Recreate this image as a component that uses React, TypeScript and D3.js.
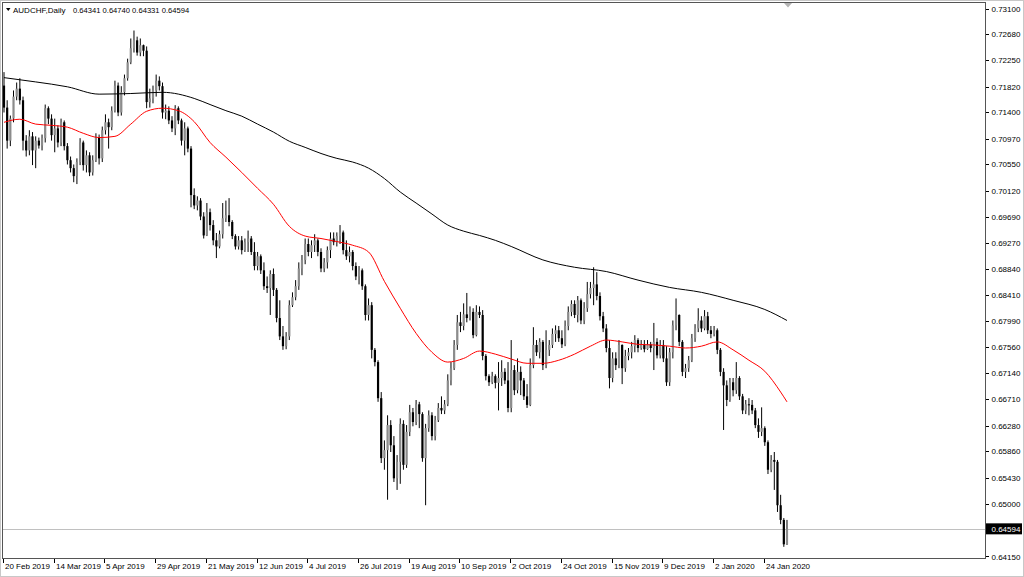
import React from 'react';
import * as d3 from 'd3';

const symbolTitle = 'AUDCHF,Daily';
const lastQuote = ['0.64341', '0.64740', '0.64331', '0.64594'];
const bidPrice = 0.64594;

const open = [
0.7184, 0.7148, 0.7094, 0.7130, 0.7166, 0.7179, 0.7160, 0.7094, 0.7078, 0.7101,
0.7078, 0.7094, 0.7086, 0.7098, 0.7147, 0.7130, 0.7103, 0.7114, 0.7091, 0.7124,
0.7085, 0.7062, 0.7049, 0.7036, 0.7059, 0.7091, 0.7054, 0.7070, 0.7042, 0.7062,
0.7099, 0.7065, 0.7111, 0.7124, 0.7116, 0.7143, 0.7184, 0.7140, 0.7173, 0.7196,
0.7222, 0.7245, 0.7258, 0.7238, 0.7250, 0.7241, 0.7157, 0.7163, 0.7176, 0.7192,
0.7183, 0.7140, 0.7143, 0.7127, 0.7114, 0.7147, 0.7127, 0.7094, 0.7114, 0.7081,
0.7005, 0.6988, 0.6996, 0.6970, 0.6939, 0.6977, 0.6956, 0.6931, 0.6921, 0.6941,
0.6967, 0.6972, 0.6961, 0.6938, 0.6921, 0.6931, 0.6915, 0.6928, 0.6934, 0.6912,
0.6889, 0.6905, 0.6882, 0.6856, 0.6853, 0.6876, 0.6850, 0.6804, 0.6774, 0.6758,
0.6774, 0.6825, 0.6838, 0.6856, 0.6885, 0.6899, 0.6925, 0.6912, 0.6923, 0.6931,
0.6912, 0.6885, 0.6895, 0.6915, 0.6934, 0.6928, 0.6938, 0.6944, 0.6915, 0.6905,
0.6912, 0.6889, 0.6872, 0.6882, 0.6856, 0.6809, 0.6825, 0.6752, 0.6732, 0.6673,
0.6575, 0.6588, 0.6629, 0.6596, 0.6542, 0.6569, 0.6631, 0.6564, 0.6618, 0.6650,
0.6634, 0.6663, 0.6647, 0.6575, 0.6624, 0.6645, 0.6611, 0.6637, 0.6657, 0.6653,
0.6663, 0.6702, 0.6722, 0.6760, 0.6797, 0.6791, 0.6810, 0.6804, 0.6814, 0.6776,
0.6814, 0.6809, 0.6742, 0.6709, 0.6699, 0.6709, 0.6698, 0.6706, 0.6716, 0.6702,
0.6657, 0.6719, 0.6686, 0.6716, 0.6702, 0.6676, 0.6662, 0.6727, 0.6760, 0.6748,
0.6765, 0.6727, 0.6752, 0.6760, 0.6778, 0.6784, 0.6771, 0.6761, 0.6791, 0.6814,
0.6827, 0.6809, 0.6833, 0.6800, 0.6820, 0.6843, 0.6853, 0.6859, 0.6840, 0.6807,
0.6787, 0.6755, 0.6706, 0.6738, 0.6727, 0.6760, 0.6722, 0.6742, 0.6748, 0.6758,
0.6768, 0.6755, 0.6761, 0.6753, 0.6761, 0.6755, 0.6765, 0.6743, 0.6760, 0.6738,
0.6699, 0.6748, 0.6792, 0.6809, 0.6765, 0.6716, 0.6722, 0.6735, 0.6771, 0.6787,
0.6800, 0.6787, 0.6807, 0.6784, 0.6778, 0.6784, 0.6752, 0.6716, 0.6694, 0.6670,
0.6699, 0.6686, 0.6706, 0.6676, 0.6653, 0.6663, 0.6662, 0.6653, 0.6629, 0.6618,
0.6624, 0.6601, 0.6556, 0.6572, 0.6569, 0.6498, 0.6474, 0.64341
];

const high = [
0.7206, 0.7160, 0.7135, 0.7176, 0.7189, 0.7196, 0.7166, 0.7103, 0.7111, 0.7108,
0.7101, 0.7099, 0.7104, 0.7153, 0.7150, 0.7137, 0.7130, 0.7119, 0.7130, 0.7127,
0.7090, 0.7068, 0.7055, 0.7065, 0.7098, 0.7094, 0.7078, 0.7075, 0.7070, 0.7106,
0.7104, 0.7117, 0.7137, 0.7130, 0.7150, 0.7192, 0.7189, 0.7183, 0.7202, 0.7228,
0.7261, 0.7274, 0.7264, 0.7261, 0.7251, 0.7248, 0.7179, 0.7184, 0.7202, 0.7199,
0.7189, 0.7153, 0.7150, 0.7134, 0.7152, 0.7150, 0.7130, 0.7124, 0.7117, 0.7085,
0.7016, 0.7003, 0.7000, 0.6977, 0.6992, 0.6983, 0.6964, 0.6943, 0.6947, 0.6992,
0.6996, 0.7000, 0.6964, 0.6941, 0.6938, 0.6938, 0.6934, 0.6947, 0.6938, 0.6928,
0.6912, 0.6908, 0.6895, 0.6872, 0.6882, 0.6885, 0.6853, 0.6833, 0.6791, 0.6781,
0.6833, 0.6846, 0.6866, 0.6895, 0.6907, 0.6934, 0.6934, 0.6931, 0.6941, 0.6934,
0.6918, 0.6902, 0.6921, 0.6944, 0.6944, 0.6944, 0.6956, 0.6947, 0.6931, 0.6921,
0.6915, 0.6895, 0.6889, 0.6885, 0.6859, 0.6836, 0.6830, 0.6755, 0.6735, 0.6683,
0.6604, 0.6645, 0.6637, 0.6611, 0.6580, 0.6640, 0.6637, 0.6629, 0.6662, 0.6657,
0.6670, 0.6667, 0.6650, 0.6631, 0.6653, 0.6650, 0.6644, 0.6665, 0.6676, 0.6670,
0.6712, 0.6732, 0.6768, 0.6809, 0.6814, 0.6828, 0.6845, 0.6823, 0.6820, 0.6825,
0.6823, 0.6817, 0.6745, 0.6712, 0.6716, 0.6712, 0.6732, 0.6735, 0.6722, 0.6732,
0.6768, 0.6727, 0.6738, 0.6725, 0.6706, 0.6696, 0.6738, 0.6789, 0.6768, 0.6771,
0.6768, 0.6784, 0.6768, 0.6787, 0.6792, 0.6791, 0.6784, 0.6800, 0.6823, 0.6833,
0.6833, 0.6840, 0.6836, 0.6830, 0.6863, 0.6863, 0.6887, 0.6879, 0.6846, 0.6814,
0.6794, 0.6768, 0.6748, 0.6748, 0.6768, 0.6761, 0.6752, 0.6755, 0.6765, 0.6776,
0.6771, 0.6768, 0.6768, 0.6768, 0.6765, 0.6796, 0.6771, 0.6768, 0.6768, 0.6758,
0.6755, 0.6800, 0.6836, 0.6810, 0.6768, 0.6729, 0.6742, 0.6778, 0.6794, 0.6820,
0.6807, 0.6817, 0.6814, 0.6791, 0.6791, 0.6787, 0.6755, 0.6722, 0.6702, 0.6706,
0.6706, 0.6732, 0.6709, 0.6680, 0.6670, 0.6673, 0.6670, 0.6657, 0.6640, 0.6658,
0.6627, 0.6604, 0.6580, 0.6585, 0.6572, 0.6515, 0.6477, 0.64740
];

const low = [
0.7140, 0.7081, 0.7085, 0.7124, 0.7160, 0.7153, 0.7078, 0.7068, 0.7070, 0.7054,
0.7049, 0.7081, 0.7078, 0.7091, 0.7121, 0.7094, 0.7075, 0.7083, 0.7085, 0.7078,
0.7055, 0.7042, 0.7026, 0.7023, 0.7054, 0.7045, 0.7042, 0.7036, 0.7037, 0.7059,
0.7055, 0.7059, 0.7104, 0.7081, 0.7111, 0.7140, 0.7134, 0.7135, 0.7168, 0.7192,
0.7219, 0.7238, 0.7233, 0.7232, 0.7232, 0.7147, 0.7148, 0.7155, 0.7166, 0.7176,
0.7130, 0.7129, 0.7121, 0.7108, 0.7103, 0.7121, 0.7086, 0.7070, 0.7075, 0.6985,
0.6982, 0.6980, 0.6964, 0.6934, 0.6938, 0.6947, 0.6923, 0.6902, 0.6918, 0.6934,
0.6961, 0.6954, 0.6933, 0.6916, 0.6916, 0.6908, 0.6912, 0.6912, 0.6907, 0.6882,
0.6882, 0.6876, 0.6850, 0.6845, 0.6809, 0.6840, 0.6797, 0.6768, 0.6752, 0.6753,
0.6768, 0.6822, 0.6833, 0.6850, 0.6874, 0.6892, 0.6905, 0.6902, 0.6912, 0.6905,
0.6879, 0.6879, 0.6885, 0.6902, 0.6923, 0.6921, 0.6925, 0.6908, 0.6899, 0.6895,
0.6882, 0.6866, 0.6859, 0.6850, 0.6800, 0.6800, 0.6738, 0.6725, 0.6667, 0.6567,
0.6556, 0.6507, 0.6585, 0.6536, 0.6523, 0.6533, 0.6556, 0.6559, 0.6611, 0.6627,
0.6629, 0.6624, 0.6569, 0.6498, 0.6618, 0.6604, 0.6604, 0.6634, 0.6647, 0.6647,
0.6660, 0.6694, 0.6719, 0.6752, 0.6781, 0.6784, 0.6797, 0.6800, 0.6771, 0.6774,
0.6804, 0.6735, 0.6702, 0.6693, 0.6696, 0.6689, 0.6653, 0.6693, 0.6696, 0.6650,
0.6650, 0.6678, 0.6681, 0.6678, 0.6670, 0.6657, 0.6660, 0.6722, 0.6742, 0.6738,
0.6719, 0.6722, 0.6742, 0.6755, 0.6765, 0.6765, 0.6755, 0.6758, 0.6784, 0.6807,
0.6804, 0.6797, 0.6794, 0.6794, 0.6814, 0.6836, 0.6825, 0.6833, 0.6800, 0.6781,
0.6748, 0.6689, 0.6699, 0.6719, 0.6722, 0.6696, 0.6716, 0.6735, 0.6738, 0.6748,
0.6748, 0.6752, 0.6748, 0.6752, 0.6748, 0.6719, 0.6738, 0.6738, 0.6732, 0.6693,
0.6693, 0.6738, 0.6784, 0.6758, 0.6709, 0.6706, 0.6716, 0.6732, 0.6765, 0.6781,
0.6781, 0.6784, 0.6778, 0.6771, 0.6774, 0.6745, 0.6709, 0.6621, 0.6660, 0.6667,
0.6676, 0.6680, 0.6670, 0.6647, 0.6647, 0.6645, 0.6647, 0.6624, 0.6608, 0.6611,
0.6595, 0.6549, 0.6552, 0.6523, 0.6487, 0.6467, 0.6430, 0.64331
];

const close = [
0.7148, 0.7094, 0.7130, 0.7166, 0.7179, 0.7160, 0.7094, 0.7078, 0.7101, 0.7078,
0.7094, 0.7086, 0.7098, 0.7147, 0.7130, 0.7103, 0.7114, 0.7091, 0.7124, 0.7085,
0.7062, 0.7049, 0.7036, 0.7059, 0.7091, 0.7054, 0.7070, 0.7042, 0.7062, 0.7099,
0.7065, 0.7111, 0.7124, 0.7116, 0.7143, 0.7184, 0.7140, 0.7173, 0.7196, 0.7222,
0.7245, 0.7258, 0.7238, 0.7250, 0.7241, 0.7157, 0.7163, 0.7176, 0.7192, 0.7183,
0.7140, 0.7143, 0.7127, 0.7114, 0.7147, 0.7127, 0.7094, 0.7114, 0.7081, 0.7005,
0.6988, 0.6996, 0.6970, 0.6939, 0.6977, 0.6956, 0.6931, 0.6921, 0.6941, 0.6967,
0.6972, 0.6961, 0.6938, 0.6921, 0.6931, 0.6915, 0.6928, 0.6934, 0.6912, 0.6889,
0.6905, 0.6882, 0.6856, 0.6853, 0.6876, 0.6850, 0.6804, 0.6774, 0.6758, 0.6774,
0.6825, 0.6838, 0.6856, 0.6885, 0.6899, 0.6925, 0.6912, 0.6923, 0.6931, 0.6912,
0.6885, 0.6895, 0.6915, 0.6934, 0.6928, 0.6938, 0.6944, 0.6915, 0.6905, 0.6912,
0.6889, 0.6872, 0.6882, 0.6856, 0.6809, 0.6825, 0.6752, 0.6732, 0.6673, 0.6575,
0.6588, 0.6629, 0.6596, 0.6542, 0.6569, 0.6631, 0.6564, 0.6618, 0.6650, 0.6634,
0.6663, 0.6647, 0.6575, 0.6624, 0.6645, 0.6611, 0.6637, 0.6657, 0.6653, 0.6663,
0.6702, 0.6722, 0.6760, 0.6797, 0.6791, 0.6810, 0.6804, 0.6814, 0.6776, 0.6814,
0.6809, 0.6742, 0.6709, 0.6699, 0.6709, 0.6698, 0.6706, 0.6716, 0.6702, 0.6657,
0.6719, 0.6686, 0.6716, 0.6702, 0.6676, 0.6662, 0.6727, 0.6760, 0.6748, 0.6765,
0.6727, 0.6752, 0.6760, 0.6778, 0.6784, 0.6771, 0.6761, 0.6791, 0.6814, 0.6827,
0.6809, 0.6833, 0.6800, 0.6820, 0.6843, 0.6853, 0.6859, 0.6840, 0.6807, 0.6787,
0.6755, 0.6706, 0.6738, 0.6727, 0.6760, 0.6722, 0.6742, 0.6748, 0.6758, 0.6768,
0.6755, 0.6761, 0.6753, 0.6761, 0.6755, 0.6765, 0.6743, 0.6760, 0.6738, 0.6699,
0.6748, 0.6792, 0.6809, 0.6765, 0.6716, 0.6722, 0.6735, 0.6771, 0.6787, 0.6800,
0.6787, 0.6807, 0.6784, 0.6778, 0.6784, 0.6752, 0.6716, 0.6694, 0.6670, 0.6699,
0.6686, 0.6706, 0.6676, 0.6653, 0.6663, 0.6662, 0.6653, 0.6629, 0.6618, 0.6624,
0.6601, 0.6556, 0.6572, 0.6569, 0.6498, 0.6474, 0.64341, 0.64594
];

// Red moving average read at bar indices
const maFastBars = [0, 5, 10, 15, 20, 25, 30, 35, 40, 45, 50, 55, 60, 65, 70, 75, 80, 85, 90, 95, 100, 105, 110, 115, 120, 125, 130, 135, 140, 145, 150, 155, 160, 165, 170, 175, 180, 185, 190, 195, 200, 205, 210, 215, 220, 225, 230, 235, 240, 245, 247];
const maFast = [0.7124, 0.7129, 0.7121, 0.7119, 0.7116, 0.7106, 0.7099, 0.7101, 0.7121, 0.7142, 0.7147, 0.7143, 0.7125, 0.7091, 0.7067, 0.7042, 0.7016, 0.6990, 0.6954, 0.6938, 0.6934, 0.6929, 0.6923, 0.6912, 0.6864, 0.6820, 0.6779, 0.6748, 0.6732, 0.6738, 0.6750, 0.6745, 0.6737, 0.6730, 0.6730, 0.6735, 0.6745, 0.6758, 0.6768, 0.6765, 0.6761, 0.6760, 0.6758, 0.6755, 0.6758, 0.6765, 0.6752, 0.6735, 0.6717, 0.6683, 0.6667];

// Black moving average read at bar indices
const maSlowBars = [0, 10, 20, 30, 40, 50, 60, 65, 70, 75, 80, 85, 90, 95, 100, 105, 110, 115, 120, 125, 130, 135, 140, 145, 150, 155, 160, 170, 180, 190, 200, 210, 220, 230, 240, 247];
const maSlow = [0.7197, 0.7190, 0.7182, 0.7170, 0.7171, 0.7173, 0.7163, 0.7153, 0.7143, 0.7134, 0.7121, 0.7108, 0.7093, 0.7083, 0.7073, 0.7065, 0.7059, 0.7049, 0.7032, 0.7010, 0.6992, 0.6974, 0.6956, 0.6946, 0.6939, 0.6931, 0.6921, 0.6899, 0.6887, 0.6880, 0.6866, 0.6854, 0.6846, 0.6833, 0.6818, 0.6800];

const dateTickBars = [0, 16, 32, 48, 64, 80, 96, 112, 128, 144, 160, 176, 192, 208, 224, 240];
const dateTickLabels = ['20 Feb 2019', '14 Mar 2019', '5 Apr 2019', '29 Apr 2019', '21 May 2019', '12 Jun 2019', '4 Jul 2019', '26 Jul 2019', '19 Aug 2019', '10 Sep 2019', '2 Oct 2019', '24 Oct 2019', '15 Nov 2019', '9 Dec 2019', '2 Jan 2020', '24 Jan 2020'];

const priceTicks = [0.731, 0.7268, 0.7225, 0.7182, 0.714, 0.7097, 0.7055, 0.7012, 0.6969, 0.6927, 0.6884, 0.6841, 0.6799, 0.6756, 0.6714, 0.6671, 0.6628, 0.6586, 0.6543, 0.65, 0.6415];

const FONT = "Tahoma, 'Liberation Sans', Arial, sans-serif";

export default function App() {
  const W = 1024;
  const H = 577;
  const plotLeft = 2.5;
  const plotTop = 2.5;
  const plotRight = 985.5;
  const plotBottom = 558.5;
  const n = close.length;

  const x = d3.scaleLinear().domain([0, n - 1]).range([4, 4 + 3.17 * (n - 1)]);
  const y = d3.scaleLinear().domain([0.6415, 0.731]).range([556, 8.5]);

  const line = d3
    .line<[number, number]>()
    .x((d) => x(d[0]))
    .y((d) => y(d[1]))
    .curve(d3.curveMonotoneX);

  const fastPath = line(maFastBars.map((b, i) => [b, maFast[i]] as [number, number])) || '';
  const slowPath = line(maSlowBars.map((b, i) => [b, maSlow[i]] as [number, number])) || '';

  const fmt = d3.format('.5f');
  const bw = 2.2;

  return (
    <div style={{ position: 'fixed', left: 0, top: 0, width: W, height: H, background: '#fff' }}>
      <svg width={W} height={H} viewBox={`0 0 ${W} ${H}`} style={{ display: 'block' }}>
        <rect x={0} y={0} width={W} height={H} fill="#ffffff" />
        <rect x={0.5} y={0.5} width={W - 1} height={H - 1} fill="none" stroke="#c8c8c8" />
        <defs>
          <clipPath id="plotClip">
            <rect x={plotLeft} y={plotTop} width={plotRight - plotLeft} height={plotBottom - plotTop} />
          </clipPath>
        </defs>

        {/* bid line */}
        <line x1={plotLeft} x2={plotRight} y1={Math.round(y(bidPrice)) + 0.5} y2={Math.round(y(bidPrice)) + 0.5} stroke="#c0c0c0" strokeWidth={1} />

        <g clipPath="url(#plotClip)">
          {close.map((c, i) => {
            const o = open[i];
            const cx = x(i);
            const top = y(Math.max(o, c));
            const bot = y(Math.min(o, c));
            const h = Math.max(1, bot - top);
            const bull = c > o;
            return (
              <g key={i}>
                <line x1={cx} x2={cx} y1={y(high[i])} y2={y(low[i])} stroke="#000" strokeWidth={1} />
                <rect x={cx - bw / 2} y={top} width={bw} height={h} fill={bull ? '#8c8c8c' : '#000'} />
              </g>
            );
          })}
          <path d={slowPath} fill="none" stroke="#000" strokeWidth={1} />
          <path d={fastPath} fill="none" stroke="#ff0000" strokeWidth={1} />
        </g>

        {/* frame */}
        <rect x={plotLeft} y={plotTop} width={plotRight - plotLeft} height={plotBottom - plotTop} fill="none" stroke="#555" strokeWidth={1} shapeRendering="crispEdges" />

        {/* chart shift marker */}
        <polygon points="784,3 792,3 788,7.5" fill="#b4b4b4" />

        {/* header */}
        <polygon points="6,8 10.5,8 8.25,11" fill="#000" />
        <text x={13} y={13} fontFamily={FONT} fontSize={8} fill="#000">{symbolTitle}</text>
        <text x={73} y={13} fontFamily={FONT} fontSize={7.6} fill="#000">{lastQuote.join(' ')}</text>

        {/* price axis */}
        {priceTicks.map((p, i) => {
          const ty = y(p);
          const last = i === priceTicks.length - 1;
          return (
            <g key={p}>
              <line x1={985.5} x2={989} y1={Math.round(ty) + 0.5} y2={Math.round(ty) + 0.5} stroke="#000" strokeWidth={1} shapeRendering="crispEdges" />
              <text x={991.5} y={(last ? ty + 1 : ty) + 3} fontFamily={FONT} fontSize={8} fill="#000">{fmt(p)}</text>
            </g>
          );
        })}

        {/* bid label */}
        <rect x={986} y={y(bidPrice) - 5.5} width={36} height={11} fill="#000" />
        <text x={991.5} y={y(bidPrice) + 3} fontFamily={FONT} fontSize={8} fill="#fff">{fmt(bidPrice)}</text>

        {/* date axis */}
        {dateTickBars.map((b, i) => {
          const tx = Math.round(x(b)) - 0.5;
          return (
            <g key={b}>
              <line x1={tx} x2={tx} y1={plotBottom} y2={plotBottom + 4} stroke="#000" strokeWidth={1} shapeRendering="crispEdges" />
              <text x={tx + 1.5} y={569} fontFamily={FONT} fontSize={8} fill="#000">{dateTickLabels[i]}</text>
            </g>
          );
        })}
      </svg>
    </div>
  );
}
